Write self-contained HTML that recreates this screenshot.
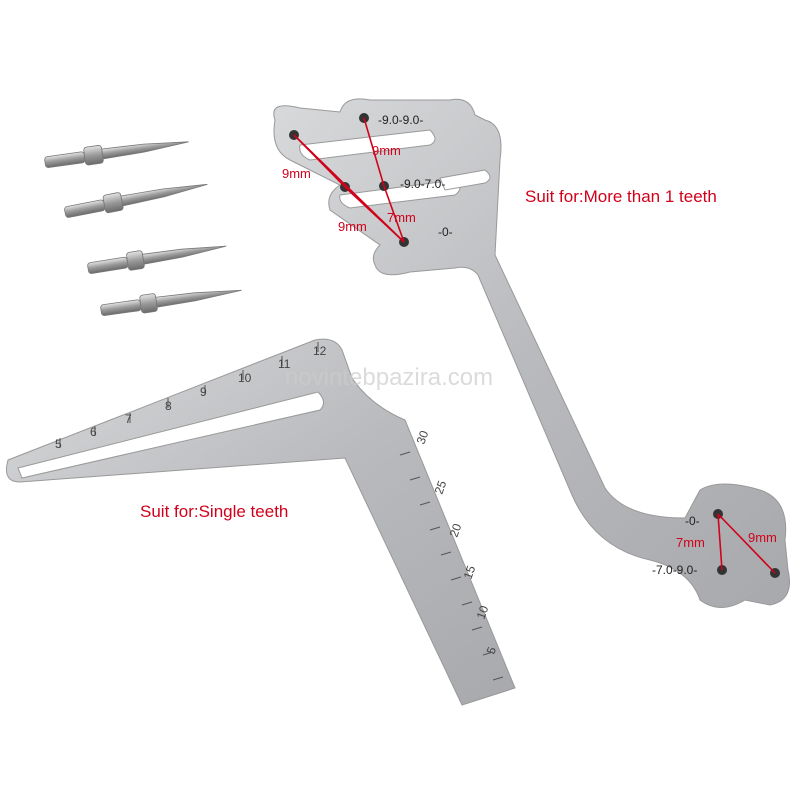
<!DOCTYPE html>
<html><head><meta charset="utf-8"><style>
html,body{margin:0;padding:0;background:#fff;width:800px;height:800px;overflow:hidden}
</style></head><body>
<svg width="800" height="800" viewBox="0 0 800 800" xmlns="http://www.w3.org/2000/svg" font-family="Liberation Sans, sans-serif">
<defs>
<linearGradient id="m" x1="0" y1="0" x2="1" y2="1">
<stop offset="0" stop-color="#d8d9db"/><stop offset="0.5" stop-color="#b9babd"/><stop offset="1" stop-color="#a8a9ac"/>
</linearGradient>
<linearGradient id="p" x1="0" y1="0" x2="0" y2="1">
<stop offset="0" stop-color="#e4e4e4"/><stop offset="0.5" stop-color="#9a9a9a"/><stop offset="1" stop-color="#6a6a6a"/>
</linearGradient>
</defs>
<rect width="800" height="800" fill="#fff"/>
<g fill="url(#p)" stroke="#777" stroke-width="0.8">
<g transform="translate(45,162) rotate(-8)"><rect x="0" y="-5" width="40" height="11" rx="3"/><rect x="40" y="-9" width="18" height="18" rx="3"/><path d="M58,-5 L100,-4 L145,0 L100,4 L58,5Z"/></g>
<g transform="translate(65,212) rotate(-11)"><rect x="0" y="-5" width="40" height="11" rx="3"/><rect x="40" y="-9" width="18" height="18" rx="3"/><path d="M58,-5 L100,-4 L145,0 L100,4 L58,5Z"/></g>
<g transform="translate(88,268) rotate(-9)"><rect x="0" y="-5" width="40" height="11" rx="3"/><rect x="40" y="-9" width="16" height="18" rx="3"/><path d="M56,-5 L95,-4 L140,0 L95,4 L56,5Z"/></g>
<g transform="translate(101,310) rotate(-8)"><rect x="0" y="-5" width="40" height="11" rx="3"/><rect x="40" y="-9" width="16" height="18" rx="3"/><path d="M56,-5 L95,-4 L142,0 L95,4 L56,5Z"/></g>
</g>
<path d="M8,460 L315,340 Q335,336 342,350 L352,378 Q370,405 405,420 L515,688 L462,705 L345,458 L20,482 Q2,482 8,460Z" fill="url(#m)" stroke="#999" stroke-width="1"/>
<path d="M18,468 L318,392 Q328,402 320,410 L22,478Z" fill="#fff" stroke="#999"/>
<g stroke="#555" stroke-width="1">
<line x1="60" y1="448" x2="60" y2="438"/><line x1="95" y1="436" x2="95" y2="426"/><line x1="130" y1="423" x2="130" y2="413"/><line x1="168" y1="408" x2="168" y2="398"/><line x1="205" y1="395" x2="205" y2="385"/><line x1="243" y1="380" x2="243" y2="370"/><line x1="282" y1="366" x2="282" y2="356"/><line x1="318" y1="352" x2="318" y2="342"/>
<line x1="400" y1="455" x2="410" y2="452"/><line x1="410" y1="480" x2="420" y2="477"/><line x1="420" y1="505" x2="430" y2="502"/><line x1="430" y1="530" x2="440" y2="527"/><line x1="441" y1="555" x2="451" y2="552"/><line x1="451" y1="580" x2="461" y2="577"/><line x1="462" y1="605" x2="472" y2="602"/><line x1="472" y1="630" x2="482" y2="627"/><line x1="483" y1="655" x2="493" y2="652"/><line x1="493" y1="680" x2="503" y2="677"/>
</g>
<g font-size="12" fill="#444">
<text x="55" y="448">5</text><text x="90" y="436">6</text><text x="125" y="423">7</text><text x="165" y="410">8</text><text x="200" y="396">9</text><text x="238" y="382">10</text><text x="278" y="368">11</text><text x="313" y="355">12</text>
</g>
<g font-size="12" fill="#444">
<text transform="translate(424,445) rotate(-70)">30</text><text transform="translate(442,495) rotate(-70)">25</text><text transform="translate(457,538) rotate(-70)">20</text><text transform="translate(471,580) rotate(-70)">15</text><text transform="translate(484,620) rotate(-70)">10</text><text transform="translate(494,655) rotate(-70)">5</text>
</g>
<path d="M275,120 Q268,100 300,108 L340,112 Q345,95 370,100 L450,100 Q470,96 475,115 L485,120 Q505,125 500,160 L495,255 L605,488 Q625,518 685,518 L700,490 Q720,478 760,490 Q790,500 785,540 L788,570 Q795,600 770,605 L745,600 Q720,615 700,600 Q690,570 650,560 Q595,548 572,495 L478,275 Q470,265 455,268 L410,272 Q380,280 375,265 Q370,255 380,245 L330,210 Q325,195 340,185 L290,160 Q270,150 275,120Z" fill="url(#m)" stroke="#999"/>
<path d="M300,145 L430,130 Q440,140 430,145 L310,160 Q298,155 300,145Z" fill="#fff" stroke="#999"/>
<path d="M340,195 L455,180 Q465,188 455,195 L350,208 Q338,203 340,195Z" fill="#fff" stroke="#999"/>
<path d="M440,178 L485,170 Q495,178 485,183 L445,190Z" fill="#fff" stroke="#999"/>
<g fill="#333"><circle cx="294" cy="135" r="5"/><circle cx="364" cy="118" r="5"/><circle cx="345" cy="187" r="5"/><circle cx="384" cy="186" r="5"/><circle cx="404" cy="242" r="5"/><circle cx="718" cy="514" r="5"/><circle cx="722" cy="570" r="5"/><circle cx="775" cy="573" r="5"/></g>
<g font-size="12" fill="#222">
<text x="378" y="124">-9.0-9.0-</text><text x="400" y="188">-9.0-7.0-</text><text x="438" y="236">-0-</text><text x="685" y="525">-0-</text><text x="652" y="574">-7.0-9.0-</text>
</g>
<g stroke="#d0021b" stroke-width="1.6" fill="none">
<line x1="294" y1="135" x2="345" y2="187"/><line x1="364" y1="118" x2="384" y2="186"/><line x1="294" y1="135" x2="404" y2="242"/><line x1="345" y1="187" x2="404" y2="242"/><line x1="384" y1="186" x2="404" y2="242"/>
<line x1="718" y1="514" x2="775" y2="573"/><line x1="718" y1="514" x2="722" y2="570"/>
</g>
<g font-size="13" fill="#d0021b">
<text x="282" y="178">9mm</text><text x="372" y="155">9mm</text><text x="338" y="231">9mm</text><text x="387" y="222">7mm</text><text x="748" y="542">9mm</text><text x="676" y="547">7mm</text>
</g>
<text x="285" y="385" font-size="24" fill="#ccc" opacity="0.7">novintebpazira.com</text>
<text x="525" y="202" font-size="17" fill="#d0021b">Suit for:More than 1 teeth</text>
<text x="140" y="517" font-size="17" fill="#d0021b">Suit for:Single teeth</text>
</svg>
</body></html>
